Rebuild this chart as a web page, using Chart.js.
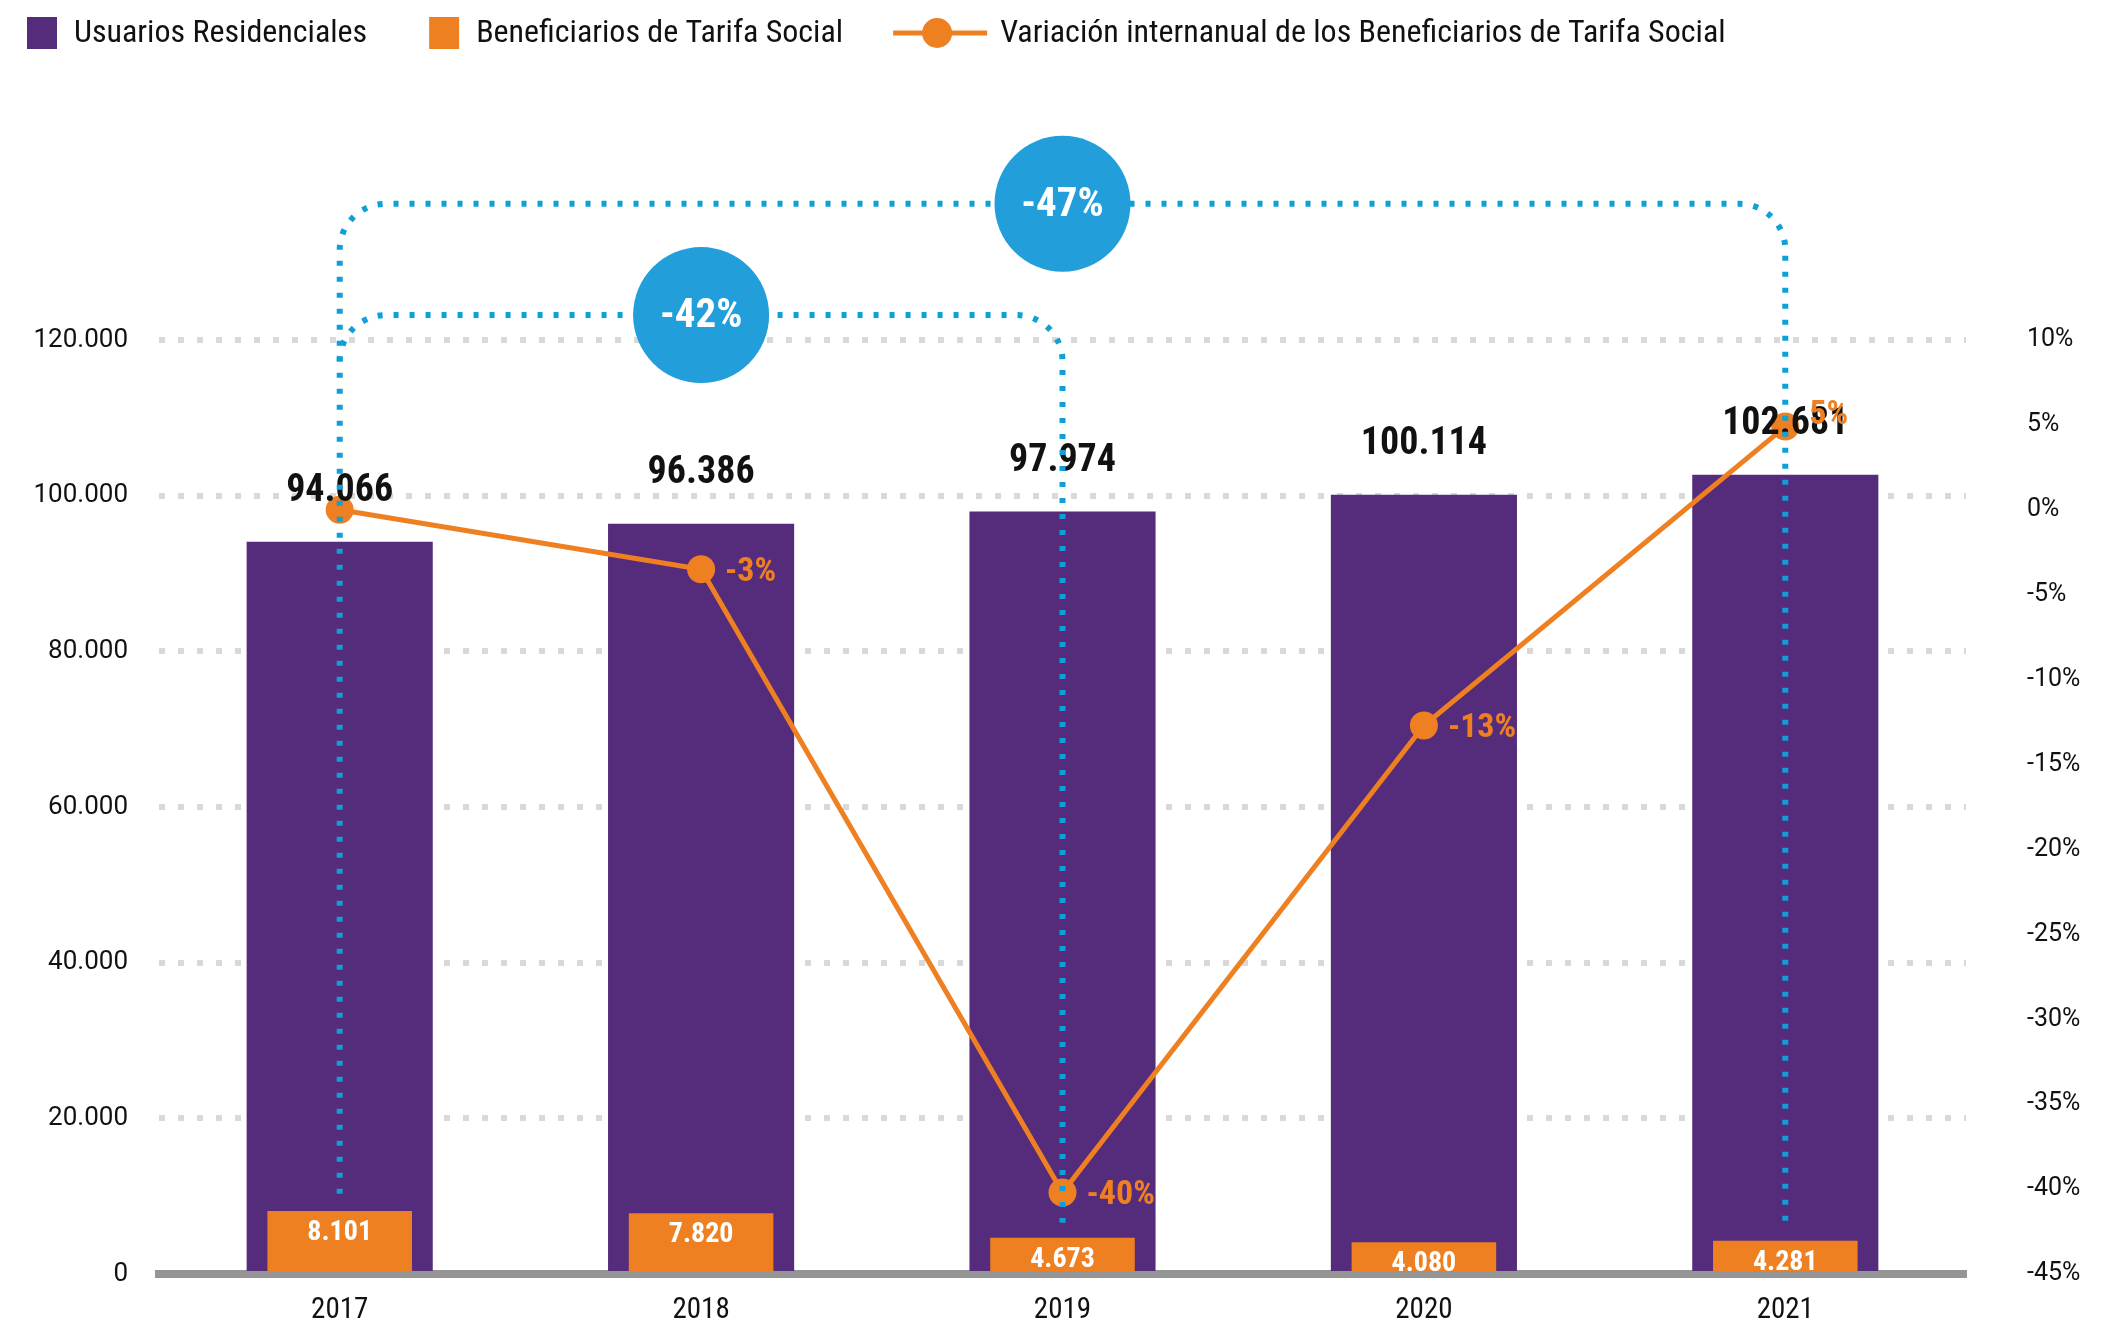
<!DOCTYPE html>
<html>
<head>
<meta charset="utf-8">
<script src="https://cdn.jsdelivr.net/npm/chart.js@4/dist/chart.umd.min.js"></script>
<style>
  html, body { margin: 0; padding: 0; background: #fff; overflow: hidden; }
  canvas { display: block; }
</style>
</head>
<body>
<canvas id="chart" width="2108" height="1325"></canvas>
<script>
const years = ['2017', '2018', '2019', '2020', '2021'];
const residenciales = [94066, 96386, 97974, 100114, 102681];
const beneficiarios = [8101, 7820, 4673, 4080, 4281];
const variacion = [0, -3.5, -40.2, -12.7, 4.9];
const variacionLabels = ['', '-3%', '-40%', '-13%', '5%'];

// comparaciones entre años (índices de categoría)
const comparaciones = [
    { desde: 0, hasta: 4, texto: '-47%' },
    { desde: 0, hasta: 2, texto: '-42%' }
];

const PURPLE = '#552B7B';
const ORANGE = '#EE8022';
const BLUE = '#0EA0D6';
const BLUE_CIRCLE = '#229FDA';
const NARROW = "'Liberation Sans Narrow', 'Roboto Condensed', Roboto, sans-serif";

function miles(v) {
    return String(v).replace(/\B(?=(\d{3})+(?!\d))/g, '.');
}

const legendItems = [
    { text: 'Usuarios Residenciales', type: 'box', color: PURPLE },
    { text: 'Beneficiarios de Tarifa Social', type: 'box', color: ORANGE },
    { text: 'Variación internanual de los Beneficiarios de Tarifa Social', type: 'line', color: ORANGE }
];

const fondo = {
    id: 'fondo',
    beforeDraw(chart) {
        const ctx = chart.ctx;
        ctx.save();
        ctx.fillStyle = '#fff';
        ctx.fillRect(0, 0, chart.width, chart.height);
        ctx.restore();
    }
};

const leyenda = {
    id: 'leyenda',
    afterDraw(chart) {
        const ctx = chart.ctx;
        ctx.save();
        ctx.font = '32px ' + NARROW;
        ctx.textBaseline = 'middle';
        let x = 27;
        const y = 33;
        legendItems.forEach(item => {
            if (item.type === 'box') {
                ctx.fillStyle = item.color;
                ctx.fillRect(x, y - 16, 30, 32);
                x += 30 + 17;
            } else {
                x -= 12;
                ctx.strokeStyle = item.color;
                ctx.lineWidth = 5;
                ctx.beginPath();
                ctx.moveTo(x, y);
                ctx.lineTo(x + 94, y);
                ctx.stroke();
                ctx.fillStyle = item.color;
                ctx.beginPath();
                ctx.arc(x + 44, y, 15, 0, Math.PI * 2);
                ctx.fill();
                x += 94 + 13;
            }
            ctx.fillStyle = '#111';
            ctx.fillText(item.text, x, y + 1);
            x += ctx.measureText(item.text).width + 62;
        });
        ctx.restore();
    }
};

const etiquetas = {
    id: 'etiquetas',
    afterDatasetsDraw(chart) {
        const ctx = chart.ctx;
        const xs = chart.scales.x;
        const ys = chart.scales.y;
        ctx.save();
        ctx.textAlign = 'center';
        ctx.textBaseline = 'middle';

        // valores sobre las barras moradas
        const mRes = chart.getDatasetMeta(0);
        ctx.font = 'bold 38px ' + NARROW;
        ctx.fillStyle = '#111';
        mRes.data.forEach((bar, i) => {
            ctx.fillText(miles(residenciales[i]), bar.x, bar.y - 50);
        });

        // valores dentro de las barras naranjas
        const mBen = chart.getDatasetMeta(1);
        ctx.font = 'bold 28px ' + NARROW;
        ctx.fillStyle = '#fff';
        mBen.data.forEach((bar, i) => {
            ctx.fillText(miles(beneficiarios[i]), bar.x, bar.y + 22);
        });

        // variación
        const mVar = chart.getDatasetMeta(2);
        ctx.font = 'bold 34px ' + NARROW;
        ctx.fillStyle = ORANGE;
        ctx.textAlign = 'left';
        mVar.data.forEach((pt, i) => {
            if (!variacionLabels[i]) return;
            const dy = variacion[i] > 0 ? -11 : 3;
            ctx.fillText(variacionLabels[i], pt.x + 24, pt.y + dy);
        });

        // llaves de comparación
        const niveles = [137500, 123200];
        const basesIzq = [10300, null];
        const baseDer = 6600;
        const r = 46;
        comparaciones.forEach((c, k) => {
            const x1 = xs.getPixelForValue(c.desde);
            const x2 = xs.getPixelForValue(c.hasta);
            const yTop = ys.getPixelForValue(niveles[k]);
            const yDer = ys.getPixelForValue(baseDer);
            ctx.save();
            ctx.strokeStyle = BLUE;
            ctx.lineWidth = 6;
            ctx.setLineDash([5, 11]);
            ctx.beginPath();
            if (basesIzq[k] !== null) {
                ctx.moveTo(x1, ys.getPixelForValue(basesIzq[k]));
                ctx.lineTo(x1, yTop + r);
            } else {
                ctx.moveTo(x1, yTop + r);
            }
            ctx.arcTo(x1, yTop, x1 + r, yTop, r);
            ctx.lineTo(x2 - r, yTop);
            ctx.arcTo(x2, yTop, x2, yTop + r, r);
            ctx.lineTo(x2, yDer);
            ctx.stroke();
            ctx.restore();

            const xm = xs.getPixelForValue((c.desde + c.hasta) / 2);
            ctx.fillStyle = BLUE_CIRCLE;
            ctx.beginPath();
            ctx.arc(xm, yTop, 68, 0, Math.PI * 2);
            ctx.fill();
            ctx.fillStyle = '#fff';
            ctx.textAlign = 'center';
            ctx.font = 'bold 41px ' + NARROW;
            ctx.fillText(c.texto, xm, yTop + 2);
        });
        ctx.restore();
    }
};

new Chart(document.getElementById('chart'), {
    type: 'bar',
    data: {
        labels: years,
        datasets: [
            {
                label: 'Usuarios Residenciales',
                data: residenciales,
                backgroundColor: PURPLE,
                grouped: false,
                barPercentage: 0.515,
                categoryPercentage: 1,
                yAxisID: 'y',
                order: 3
            },
            {
                label: 'Beneficiarios de Tarifa Social',
                data: beneficiarios,
                backgroundColor: ORANGE,
                grouped: false,
                barPercentage: 0.4,
                categoryPercentage: 1,
                yAxisID: 'y',
                order: 2
            },
            {
                type: 'line',
                label: 'Variación internanual de los Beneficiarios de Tarifa Social',
                data: variacion,
                borderColor: ORANGE,
                backgroundColor: ORANGE,
                borderWidth: 5,
                pointRadius: 14,
                pointBorderWidth: 0,
                pointBackgroundColor: ORANGE,
                tension: 0,
                yAxisID: 'y1',
                order: 1
            }
        ]
    },
    options: {
        responsive: false,
        animation: false,
        layout: { padding: { top: 340, left: 0, right: 0, bottom: 0 } },
        plugins: {
            legend: { display: false },
            tooltip: { enabled: false }
        },
        scales: {
            x: {
                grid: { display: false, drawTicks: false },
                border: { display: true, color: '#959595', width: 8 },
                ticks: {
                    color: '#111',
                    font: { family: NARROW, size: 29 },
                    padding: 19
                },
                afterFit(s) { s.height = 51; }
            },
            y: {
                position: 'left',
                min: 0,
                max: 120000,
                ticks: {
                    stepSize: 20000,
                    color: '#111',
                    font: { family: 'Roboto', size: 26 },
                    padding: 31,
                    callback: v => miles(v)
                },
                grid: { color: '#D9D9D9', lineWidth: 6, drawTicks: false },
                border: { display: false, dash: [6, 13] },
                afterFit(s) { s.width = 159; }
            },
            y1: {
                position: 'right',
                min: -45,
                max: 10,
                ticks: {
                    stepSize: 5,
                    color: '#111',
                    font: { family: 'Roboto', size: 25 },
                    padding: 0,
                    callback: v => v + '%'
                },
                grid: {
                    drawOnChartArea: false,
                    drawTicks: true,
                    tickLength: 61,
                    tickColor: 'rgba(0,0,0,0)'
                },
                border: { display: false },
                afterFit(s) { s.width = 142; }
            }
        }
    },
    plugins: [fondo, etiquetas, leyenda]
});
</script>
</body>
</html>
